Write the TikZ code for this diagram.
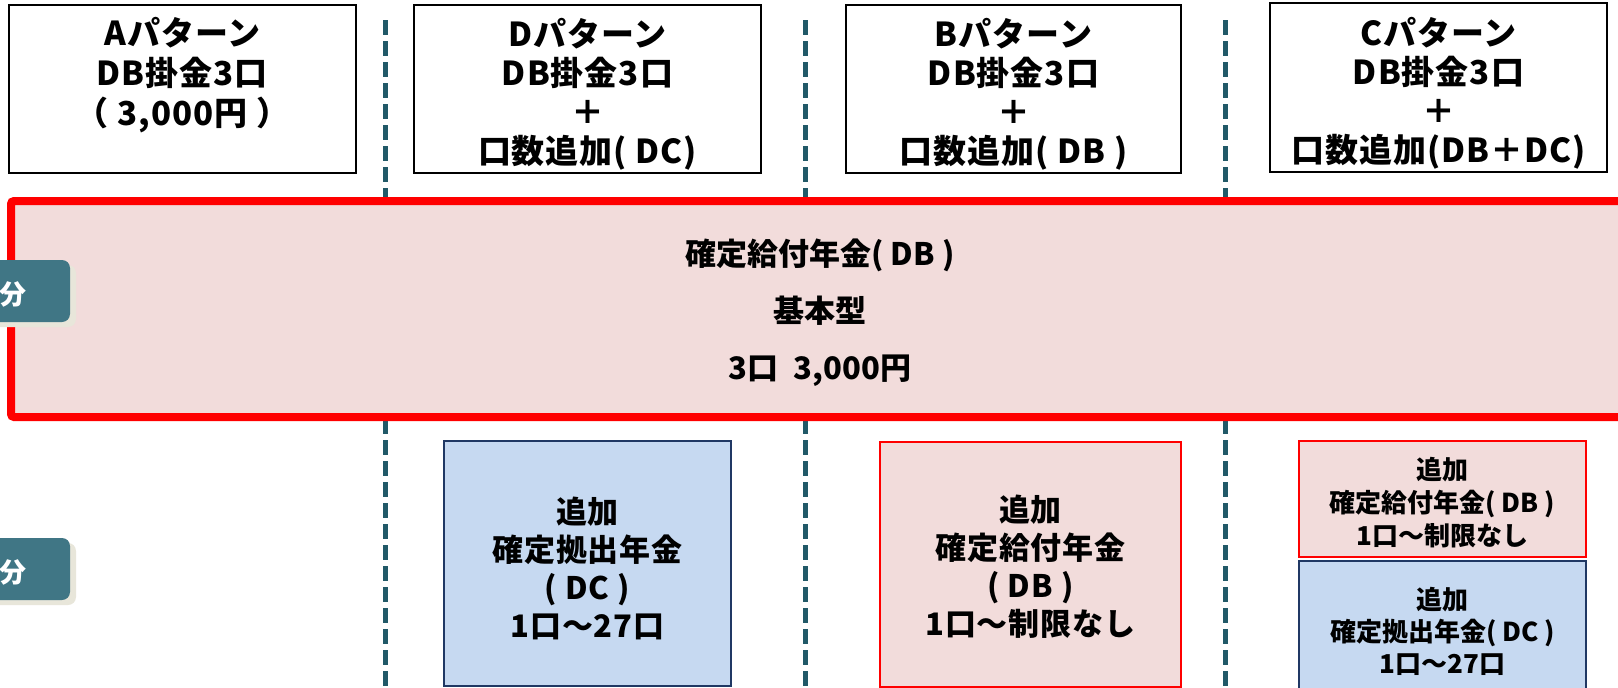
\documentclass[tikz,border=0pt]{standalone}
\usepackage{fontspec}
\setmainfont{Noto Sans CJK JP}
\newfontfamily\spacedfont{Noto Sans CJK JP}[LetterSpace=3]
\usetikzlibrary{shadows}
\definecolor{pinkfill}{HTML}{F2DCDB}
\definecolor{bluefill}{HTML}{C6D9F1}
\definecolor{navyline}{HTML}{203864}
\definecolor{tabteal}{HTML}{407685}
\definecolor{tabshadow}{HTML}{E8E6DA}
\definecolor{sepcol}{HTML}{215968}
\tikzset{
  topbox/.style={draw=black, line width=2pt, fill=white, inner sep=0pt},
  bigred/.style={draw=red, line width=8pt, fill=pinkfill, rounded corners=3pt, inner sep=0pt},
  redbox/.style={draw=red, line width=2.5pt, fill=pinkfill, inner sep=0pt},
  bluebox/.style={draw=navyline, line width=2.5pt, fill=bluefill, inner sep=0pt},
  septline/.style={draw=sepcol, line width=5pt, dash pattern=on 15pt off 6pt},
  tabbox/.style={fill=tabteal, rounded corners=8pt, inner sep=0pt, minimum width=100pt, minimum height=62pt,
     drop shadow={shadow xshift=6pt, shadow yshift=-5pt, fill=tabshadow, opacity=1}},
  tabtext/.style={text=white, font=\fontsize{27}{30}\selectfont\bfseries, inner sep=0pt},
  toptxt/.style={align=center, inner sep=0pt, font=\spacedfont\fontsize{33}{39}\selectfont\bfseries},
  centertxt/.style={align=center, inner sep=0pt, font=\fontsize{31}{57}\selectfont\bfseries},
  bottxt/.style={align=center, inner sep=0pt, font=\spacedfont\fontsize{31}{38}\selectfont\bfseries},
  smalltxt/.style={align=center, inner sep=0pt, font=\fontsize{26}{33}\selectfont\bfseries},
}
\begin{document}
\begin{tikzpicture}[x=1pt,y=-1pt]
\useasboundingbox (0,0) rectangle (1618,688);
\clip (0,0) rectangle (1618,688);
\fill[white] (0,0) rectangle (1618,688);
% separators
\coordinate (s1t) at (385,20); \coordinate (s1b) at (385,700);
\coordinate (s2t) at (805,20); \coordinate (s2b) at (805,700);
\coordinate (s3t) at (1225,20); \coordinate (s3b) at (1225,700);
\draw[septline] (s1t) -- (s1b);
\draw[septline] (s2t) -- (s2b);
\draw[septline] (s3t) -- (s3b);
% top boxes
\node[topbox, minimum width=347pt, minimum height=168pt] (A) at (182.5,89) {};
\node[topbox, minimum width=347pt, minimum height=168pt] (D) at (587.5,89) {};
\node[topbox, minimum width=335pt, minimum height=168pt] (B) at (1013.5,89) {};
\node[topbox, minimum width=337pt, minimum height=169pt] (C) at (1438.5,87.5) {};
\node[toptxt, font=\spacedfont\fontsize{33}{40}\selectfont\bfseries] (At) at (182.5,75) {Aパターン\\DB掛金3口\\（ 3,000円 ）};
\node[toptxt] (Dt) at (587.5,94) {Dパターン\\DB掛金3口\\＋\\口数追加( DC)};
\node[toptxt] (Bt) at (1013.5,94) {Bパターン\\DB掛金3口\\＋\\口数追加( DB )};
\node[toptxt] (Ct) at (1438.5,93) {Cパターン\\DB掛金3口\\＋\\口数追加(DB＋DC)};
% big basic band
\node[bigred, minimum width=1618pt, minimum height=216pt] (Base) at (820,309) {};
\node[centertxt] (Baset) at (820,312.5) {確定給付年金( DB )\\基本型\\3口\hspace{8pt} 3,000円};
% tabs
\node[tabbox] (T1) at (20,291) {};
\node[tabtext] (T1t) at (13,294) {分};
\node[tabbox] (T2) at (20,569) {};
\node[tabtext] (T2t) at (13,572) {分};
% bottom boxes
\node[bluebox, minimum width=287pt, minimum height=245pt] (Dadd) at (587.5,563.5) {};
\node[bottxt] (Daddt) at (587.5,568) {追加\\確定拠出年金\\( DC )\\1口〜27口};
\node[redbox, minimum width=301pt, minimum height=245pt] (Badd) at (1030.5,564.5) {};
\node[bottxt] (Baddt) at (1030.5,567) {追加\\確定給付年金\\( DB )\\1口〜制限なし};
\node[redbox, minimum width=287pt, minimum height=116pt] (Cdb) at (1442.5,499) {};
\node[smalltxt] (Cdbt) at (1442.5,503) {追加\\確定給付年金( DB )\\1口〜制限なし};
\node[bluebox, minimum width=287pt, minimum height=159pt] (Cdc) at (1442.5,640.5) {};
\node[smalltxt, font=\fontsize{26}{32}\selectfont\bfseries] (Cdct) at (1442.5,631) {追加\\確定拠出年金( DC )\\1口〜27口};
\end{tikzpicture}
\end{document}
